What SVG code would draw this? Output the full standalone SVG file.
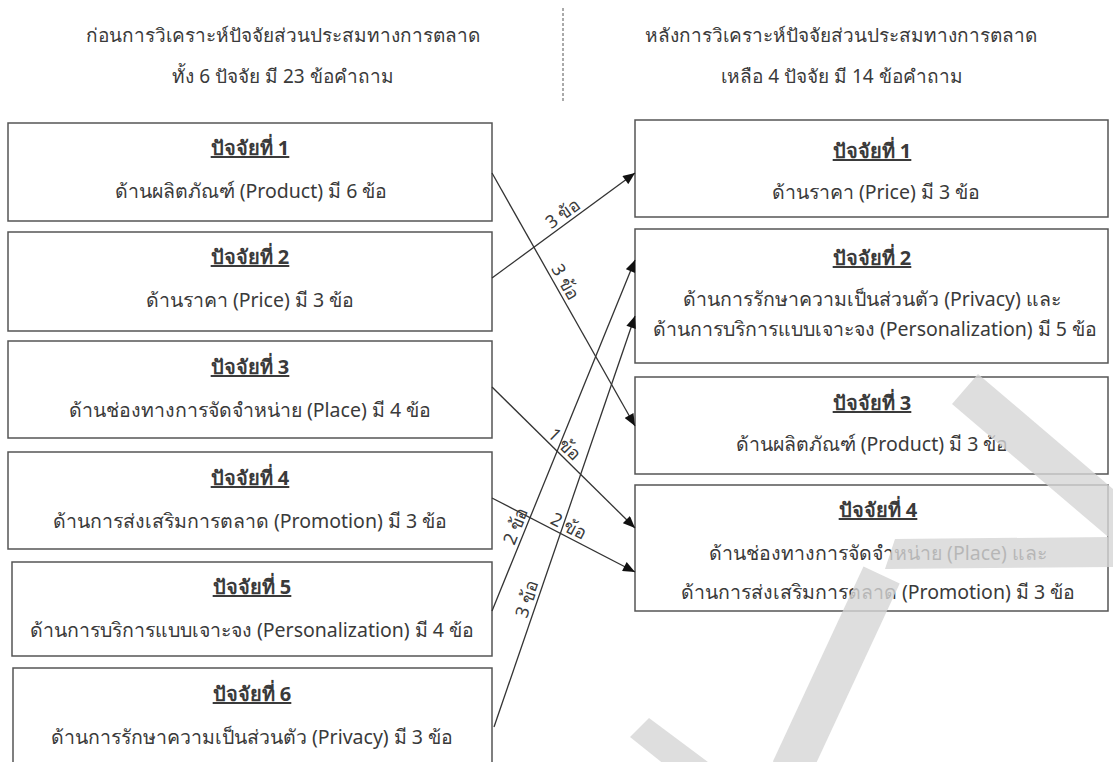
<svg xmlns="http://www.w3.org/2000/svg" width="1113" height="762" viewBox="0 0 1113 762">
<style>
.box{fill:#fff;stroke:#555;stroke-width:1.5}
.t{font-family:"Noto Sans","DejaVu Sans",sans-serif;fill:#3a3a3a;text-anchor:middle}
.h{font-size:19px}
.ti{font-size:20px;font-weight:bold;text-decoration:underline}
.st{font-size:19.5px}
.lb{font-size:18px}
.cn{stroke:#333;stroke-width:1.3;fill:none;marker-end:url(#ah)}
.wm{fill:#d6d6d6}
</style>
<defs>
<marker id="ah" viewBox="0 0 12 10" refX="12" refY="5" markerWidth="13" markerHeight="10" markerUnits="userSpaceOnUse" orient="auto">
<path d="M0,0 L12,5 L0,10 z" fill="#111"/>
</marker>
</defs>
<rect width="1113" height="762" fill="#fff"/>
<g id="header">
<text class="t h" x="283" y="42">ก่อนการวิเคราะห์ปัจจัยส่วนประสมทางการตลาด</text>
<text class="t h" x="283" y="83">ทั้ง 6 ปัจจัย มี 23 ข้อคำถาม</text>
<text class="t h" x="841" y="42">หลังการวิเคราะห์ปัจจัยส่วนประสมทางการตลาด</text>
<text class="t h" x="842" y="83">เหลือ 4 ปัจจัย มี 14 ข้อคำถาม</text>
<line x1="563" y1="8" x2="563" y2="102" stroke="#555" stroke-width="1" stroke-dasharray="3,2"/>
</g>
<g id="L1"><rect class="box" x="8" y="123" width="484" height="98"/>
<text class="t ti" x="250" y="155">ปัจจัยที่ 1</text>
<text class="t st" x="251" y="198">ด้านผลิตภัณฑ์ (Product) มี 6 ข้อ</text></g>
<g id="L2"><rect class="box" x="8" y="232" width="484" height="99"/>
<text class="t ti" x="250" y="264">ปัจจัยที่ 2</text>
<text class="t st" x="250" y="307">ด้านราคา (Price) มี 3 ข้อ</text></g>
<g id="L3"><rect class="box" x="8" y="341" width="484" height="97"/>
<text class="t ti" x="250" y="374">ปัจจัยที่ 3</text>
<text class="t st" x="250" y="417">ด้านช่องทางการจัดจำหน่าย (Place) มี 4 ข้อ</text></g>
<g id="L4"><rect class="box" x="8" y="452" width="484" height="97"/>
<text class="t ti" x="250" y="485">ปัจจัยที่ 4</text>
<text class="t st" x="250" y="528">ด้านการส่งเสริมการตลาด (Promotion) มี 3 ข้อ</text></g>
<g id="L5"><rect class="box" x="12" y="562" width="480" height="94"/>
<text class="t ti" x="252" y="594">ปัจจัยที่ 5</text>
<text class="t st" x="252" y="637">ด้านการบริการแบบเจาะจง (Personalization) มี 4 ข้อ</text></g>
<g id="L6"><rect class="box" x="13" y="668" width="479" height="110"/>
<text class="t ti" x="252" y="701">ปัจจัยที่ 6</text>
<text class="t st" x="252" y="744">ด้านการรักษาความเป็นส่วนตัว (Privacy) มี 3 ข้อ</text></g>
<g id="R1"><rect class="box" x="635" y="120" width="473" height="97"/>
<text class="t ti" x="872" y="158">ปัจจัยที่ 1</text>
<text class="t st" x="876" y="199">ด้านราคา (Price) มี 3 ข้อ</text></g>
<g id="R2"><rect class="box" x="635" y="229" width="473" height="134"/>
<text class="t ti" x="872" y="265">ปัจจัยที่ 2</text>
<text class="t st" x="872" y="306">ด้านการรักษาความเป็นส่วนตัว (Privacy) และ</text>
<text class="t st" x="875" y="336">ด้านการบริการแบบเจาะจง (Personalization) มี 5 ข้อ</text></g>
<g id="R3"><rect class="box" x="635" y="377" width="473" height="97"/>
<text class="t ti" x="872" y="410">ปัจจัยที่ 3</text>
<text class="t st" x="872" y="451">ด้านผลิตภัณฑ์ (Product) มี 3 ข้อ</text></g>
<g id="R4"><rect class="box" x="635" y="485" width="473" height="126"/>
<text class="t ti" x="878" y="517">ปัจจัยที่ 4</text>
<text class="t st" x="878" y="560">ด้านช่องทางการจัดจำหน่าย (Place)  และ</text>
<text class="t st" x="878" y="599">ด้านการส่งเสริมการตลาด (Promotion) มี 3 ข้อ</text></g>
<g id="connectors">
<line class="cn" x1="492" y1="173" x2="635" y2="426"/>
<line class="cn" x1="492" y1="278" x2="635" y2="173"/>
<line class="cn" x1="492" y1="387" x2="635" y2="528"/>
<line class="cn" x1="492" y1="498" x2="635" y2="572"/>
<line class="cn" x1="492" y1="611" x2="635" y2="260"/>
<line class="cn" x1="494" y1="727" x2="635" y2="316"/>
<text class="t lb" transform="translate(560,285) rotate(60.5)">3 ข้อ</text>
<text class="t lb" transform="translate(566.6,218.3) rotate(-36.3)">3 ข้อ</text>
<text class="t lb" transform="translate(560.3,448.8) rotate(44.6)">1 ข้อ</text>
<text class="t lb" transform="translate(566,531.8) rotate(27.4)">2 ข้อ</text>
<text class="t lb" transform="translate(521.4,528.4) rotate(-67.8)">2 ข้อ</text>
<text class="t lb" transform="translate(532.9,601) rotate(-71.1)">3 ข้อ</text>
</g>
<g id="watermark" opacity="0.8">
<polygon class="wm" points="899.7,583.4 863.5,566.6 772.9,761.6 809.1,778.4"/>
<polygon class="wm" points="978,374 1173,540 1147,570 952,404"/>
<polygon class="wm" points="895,539 1113,537 1113,567 885,569"/>
<polygon class="wm" points="630,737 649,718 712,765 665,765"/>
</g>
</svg>
